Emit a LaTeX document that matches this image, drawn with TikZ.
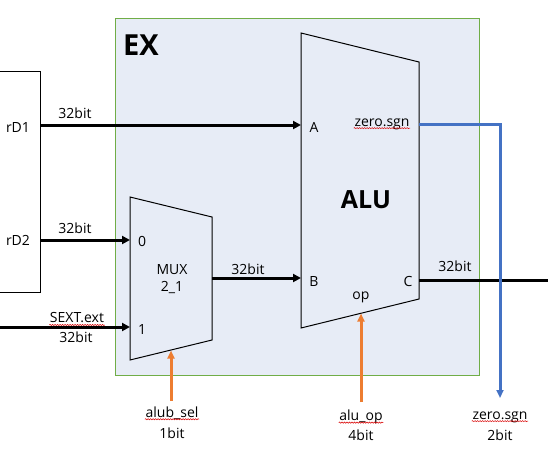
\documentclass[tikz,border=0pt]{standalone}
\usepackage{fontspec}
\setmainfont{Open Sans}
\usetikzlibrary{arrows.meta,decorations.pathmorphing}
\definecolor{exfill}{HTML}{E7ECF6}
\definecolor{exborder}{HTML}{70AD47}
\definecolor{sigblue}{HTML}{4472C4}
\definecolor{sigorange}{HTML}{ED7D31}
\begin{document}
\begin{tikzpicture}[x=1pt,y=-1pt,
  lbl/.style={inner sep=0.5pt,font=\fontsize{14}{16}\selectfont},
  bus/.style={line width=3pt,-{Triangle[length=8pt,width=8pt]}},
  busnoarrow/.style={line width=3pt},
  ctrl/.style={line width=3pt,draw=sigorange,-{Triangle[length=8pt,width=7pt]}},
  zline/.style={line width=3pt,draw=sigblue,-{Triangle[length=8pt,width=7pt]}},
  unit/.style={draw=black,line width=1pt,fill=exfill},
  squig/.style={draw=red!85!black,line width=0.5pt,decorate,decoration={snake,amplitude=0.6pt,segment length=2.5pt}}]
\useasboundingbox (0,0) rectangle (548,453);
% EX stage box
\node[draw=exborder,fill=exfill,line width=1pt,minimum width=364pt,minimum height=357pt,anchor=north west,inner sep=0] (ex) at (115,18) {};
\node[inner sep=0,font=\fontsize{29}{31}\selectfont\bfseries] (extitle) at (141,45) {EX};
% register file box (left, partly outside)
\draw[line width=1pt] (0,71) -- (40,71) -- (40,292) -- (0,292);
\coordinate (rd1out) at (40,125);
\coordinate (rd2out) at (40,240);
\coordinate (sextin) at (0,327);
\node[lbl] (rd1) at (18,127) {rD1};
\node[lbl] (rd2) at (18,240) {rD2};
% ALU
\draw[unit] (301,33) coordinate (aluTL) -- (419,62) coordinate (aluTR) -- (419,299) coordinate (aluBR) -- (301,328) coordinate (aluBL) -- cycle;
\coordinate (aluA) at (301,125);
\coordinate (aluB) at (301,278);
\coordinate (aluC) at (419,280);
\coordinate (aluZ) at (419,124);
\coordinate (aluOp) at (361,313.5);
\node[inner sep=0,font=\fontsize{25}{27}\selectfont\bfseries] (alutitle) at (366,200) {ALU};
\node[lbl] (pa) at (314,127) {A};
\node[lbl] (pb) at (314,281) {B};
\node[lbl] (pc) at (408,281) {C};
\node[lbl] (pop) at (361,297) {op};
\node[lbl] (pz) at (382,124) {zero.sgn};
% MUX
\draw[unit] (130,197) -- (212,217) -- (212,340) -- (130,360) -- cycle;
\coordinate (mux0) at (130,240);
\coordinate (mux1) at (130,327);
\coordinate (muxout) at (212,278);
\coordinate (muxsel) at (171,350.5);
\node[lbl] (muxt1) at (172,270) {MUX};
\node[lbl] (muxt2) at (172,288) {2\_1};
\node[lbl] (m0) at (142,241) {0};
\node[lbl] (m1) at (142,329) {1};
% data connectors
\draw[bus] (rd1out) -- (aluA);
\node[lbl] (w1) at (75,113) {32bit};
\draw[bus] (rd2out) -- (mux0);
\node[lbl] (w2) at (75,228) {32bit};
\draw[bus] (sextin) -- (mux1);
\node[lbl] (sext) at (77,318) {SEXT.ext};
\node[lbl] (w3) at (76,337) {32bit};
\draw[bus] (muxout) -- (aluB);
\node[lbl] (w4) at (248,269) {32bit};
\coordinate (cend) at (548,280);
\draw[busnoarrow] (aluC) -- (cend);
\node[lbl] (w5) at (455,266) {32bit};
% zero.sgn output
\coordinate (zturn) at (500,124);
\coordinate (zend) at (500,398);
\draw[zline] (aluZ) -- (zturn) -- (zend);
\node[lbl] (zs) at (500,417) {zero.sgn};
\node[lbl] (zb) at (500,435) {2bit};
% control inputs
\coordinate (selsrc) at (171,401);
\draw[ctrl] (selsrc) -- (muxsel);
\node[lbl] (sel) at (172,413) {alub\_sel};
\node[lbl] (selb) at (172,433) {1bit};
\coordinate (opsrc) at (361,402);
\draw[ctrl] (opsrc) -- (aluOp);
\node[lbl] (op) at (361,417) {alu\_op};
\node[lbl] (opb) at (361,435) {4bit};
% spell-check underlines
\foreach \n in {sext,pz,sel,op,zs}{
  \draw[squig] ([yshift=-2pt]\n.base west) -- ([yshift=-2pt]\n.base east);
}
\end{tikzpicture}
\end{document}
